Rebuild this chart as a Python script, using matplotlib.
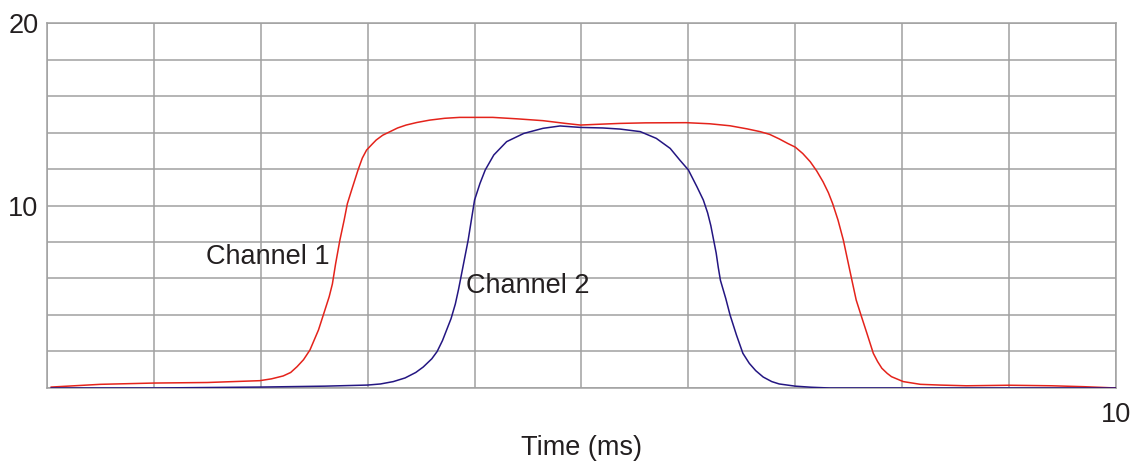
import matplotlib.pyplot as plt

# Channel 1 (red) trace
ch1_t = [0.04, 0.5, 1.0, 1.5, 1.99, 2.1, 2.21, 2.28, 2.34, 2.4, 2.46, 2.54,
         2.6, 2.64, 2.67, 2.7, 2.74, 2.78, 2.81, 2.85, 2.91, 2.95, 2.99, 3.04,
         3.08, 3.14, 3.21, 3.28, 3.36, 3.46, 3.58, 3.72, 3.86, 4.17, 4.4, 4.64,
         4.85, 4.99, 5.15, 5.36, 5.6, 5.98, 6.2, 6.39, 6.55, 6.67, 6.76, 6.85,
         6.93, 7.0, 7.07, 7.14, 7.2, 7.26, 7.31, 7.35, 7.4, 7.45, 7.49, 7.53,
         7.57, 7.62, 7.67, 7.73, 7.77, 7.81, 7.86, 7.9, 8.01, 8.17, 8.35, 8.6,
         9.0, 9.4, 9.7, 10.0]
ch1_v = [0.05, 0.2, 0.27, 0.3, 0.4, 0.5, 0.66, 0.85, 1.17, 1.55, 2.08, 3.18,
         4.27, 5.0, 5.7, 6.8, 8.1, 9.2, 10.1, 10.85, 11.95, 12.6, 13.04, 13.35,
         13.59, 13.85, 14.05, 14.25, 14.41, 14.55, 14.68, 14.78, 14.83, 14.83,
         14.75, 14.65, 14.5, 14.41, 14.45, 14.5, 14.53, 14.54, 14.48, 14.37,
         14.2, 14.05, 13.9, 13.65, 13.4, 13.2, 12.85, 12.4, 11.9, 11.3, 10.7,
         10.1, 9.2, 8.1, 7.0, 5.9, 4.82, 3.9, 3.0, 1.9, 1.45, 1.08, 0.8, 0.62,
         0.35, 0.2, 0.16, 0.12, 0.15, 0.12, 0.07, 0.0]

# Channel 2 (blue) trace
ch2_t = [0.04, 1.0, 2.0, 2.6, 3.0, 3.12, 3.24, 3.35, 3.45, 3.52, 3.6, 3.65,
         3.7, 3.74, 3.78, 3.82, 3.85, 3.88, 3.91, 3.94, 3.97, 4.0, 4.05, 4.1,
         4.18, 4.3, 4.46, 4.64, 4.8, 4.99, 5.2, 5.36, 5.55, 5.7, 5.83, 5.92,
         6.0, 6.08, 6.14, 6.18, 6.21, 6.23, 6.26, 6.28, 6.3, 6.35, 6.39, 6.45,
         6.51, 6.57, 6.63, 6.7, 6.78, 6.85, 7.0, 7.15, 7.32, 8.0, 9.0, 10.0]
ch2_v = [0.0, 0.0, 0.05, 0.1, 0.16, 0.22, 0.35, 0.55, 0.85, 1.15, 1.6, 2.0,
         2.6, 3.2, 3.8, 4.6, 5.4, 6.3, 7.2, 8.1, 9.2, 10.3, 11.2, 11.95, 12.77,
         13.5, 13.95, 14.23, 14.36, 14.28, 14.25, 14.19, 14.05, 13.68, 13.13,
         12.49, 11.95, 11.03, 10.3, 9.6, 8.9, 8.3, 7.4, 6.6, 5.9, 4.9, 4.0,
         2.9, 1.9, 1.35, 0.95, 0.6, 0.35, 0.22, 0.1, 0.04, 0.0, 0.0, 0.0, 0.0]

x_ticks = list(range(0, 11))
x_labels = [""] * 10 + ["10"]
y_ticks = list(range(0, 21, 2))
y_labels = ["" if v not in (10, 20) else str(v) for v in y_ticks]

plt.rcParams["font.family"] = ["Liberation Sans", "DejaVu Sans"]
text_color = "#231f20"
grid_color = "#a0a0a0"

fig = plt.figure(figsize=(11.37, 4.61), dpi=100)
ax = fig.add_axes([0.0413, 0.1584, 0.9402, 0.7916])

ax.plot(ch1_t, ch1_v, color="#e4231b", linewidth=1.1, zorder=3,
        solid_joinstyle="round")
ax.plot(ch2_t, ch2_v, color="#241682", linewidth=1.1, zorder=3,
        solid_joinstyle="round")

ax.set_xlim(0, 10)
ax.set_ylim(0, 20)
ax.set_xticks(x_ticks)
ax.set_xticklabels(x_labels)
ax.set_yticks(y_ticks)
ax.set_yticklabels(y_labels)
ax.tick_params(length=0, labelsize=19.5, labelcolor=text_color)
ax.tick_params(axis="x", pad=10)
ax.tick_params(axis="y", pad=6)
ax.grid(True, color=grid_color, linewidth=1.1)
ax.set_axisbelow(True)
for side in ax.spines.values():
    side.set_color(grid_color)
    side.set_linewidth(1.1)

ax.text(2.07, 7.2, "Channel 1", fontsize=19.5, color=text_color,
        ha="center", va="center")
ax.text(4.5, 5.6, "Channel 2", fontsize=19.5, color=text_color,
        ha="center", va="center")
ax.set_xlabel("Time (ms)", fontsize=19.5, color=text_color, labelpad=5)

fig.savefig("out.png", dpi=100)
